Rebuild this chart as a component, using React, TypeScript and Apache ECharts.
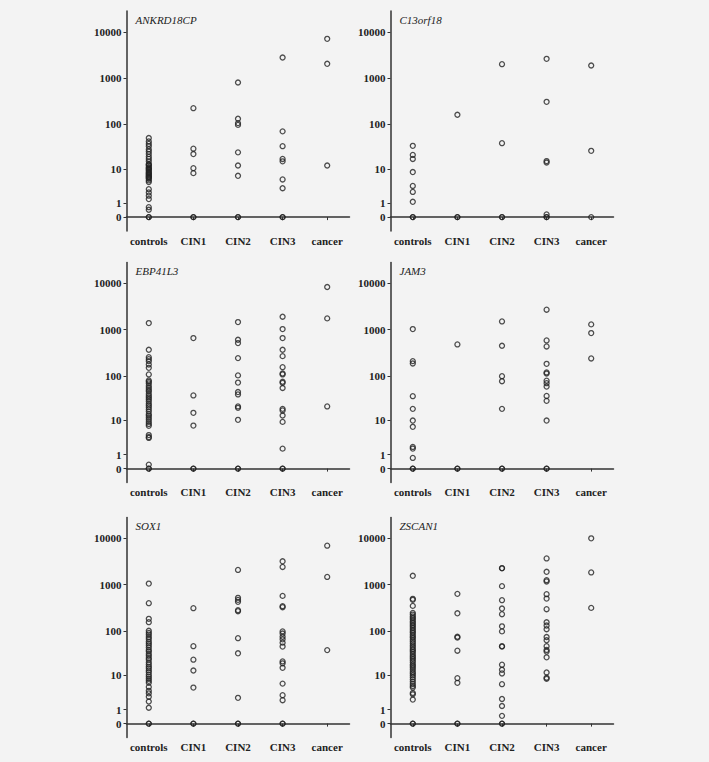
import React, { useEffect, useRef } from 'react';
import * as echarts from 'echarts';

const CATEGORIES = ['controls', 'CIN1', 'CIN2', 'CIN3', 'cancer'];
const Y_TICK_LABELS = [0, 1, 10, 100, 1000, 10000];
const GENES = ['ANKRD18CP', 'C13orf18', 'EBP41L3', 'JAM3', 'SOX1', 'ZSCAN1'];

// values per category: controls, CIN1, CIN2, CIN3, cancer
const ANKRD18CP = [
  [50, 42, 37, 33, 28, 25, 22, 19, 17, 15, 13, 12.5, 12, 11, 10.5, 10, 9.5, 9, 8.4, 8, 7.6, 7.2, 6.9, 6.5, 6.3, 6, 5.7, 5.2, 4.7, 3.0, 2.4, 1.9, 1.45, 0.64, 0.44, 0, 0],
  [224, 29, 22, 10.4, 7.9, 0, 0],
  [805, 132, 106, 97, 24, 12, 6.8, 0, 0],
  [2790, 70, 33, 17, 15, 5.5, 3.2, 0, 0],
  [7060, 2040, 12],
];
const C13ORF18 = [
  [33.6, 21, 17, 8.4, 3.7, 2.5, 1.14, 0, 0],
  [161, 0, 0],
  [2004, 38.5, 0, 0],
  [2612, 307, 15.2, 14.1, 0.14, 0, 0],
  [1875, 26, 0],
];
const EBP41L3 = [
  [1387, 367, 254, 230, 208, 176, 149, 107, 79, 74, 68, 60, 54, 49, 45, 40, 36, 33, 30, 27, 24, 22, 20, 18, 16, 14, 12.8, 11.5, 10.3, 9.2, 8.2, 7.4, 4.3, 3.8, 3.6, 0.22, 0, 0],
  [657, 37, 15, 7.5, 0, 0],
  [1458, 604, 512, 242, 102, 71, 44, 39, 21, 19.5, 10.3, 0, 0],
  [1900, 1029, 657, 367, 267, 154, 112, 107, 74, 70, 54, 18.5, 17, 13, 9.2, 1.7, 0, 0],
  [8330, 1750, 21],
];
const JAM3 = [
  [1029, 208, 185, 35.6, 18.5, 9.9, 7.0, 1.94, 1.71, 0.7, 0, 0],
  [479, 0, 0],
  [1506, 448, 98, 76, 18.5, 0, 0],
  [2697, 585, 433, 182, 118, 112, 78, 69, 58, 36, 28, 9.9, 0, 0],
  [1299, 843, 238],
];
const SOX1 = [
  [1054, 397, 182, 154, 100, 90, 82, 73, 66, 58, 53, 48, 43, 38, 35, 31, 28, 25, 23, 20, 18, 16, 14.6, 13.1, 11.8, 10.4, 9.3, 8.3, 7.4, 6.6, 5.2, 4.1, 3.5, 2.8, 2.0, 1.2, 0, 0],
  [310, 46, 23, 13, 5, 0, 0],
  [2078, 518, 468, 424, 280, 266, 69, 32, 2.6, 0, 0],
  [3197, 2410, 571, 342, 325, 97, 87, 74, 65, 55, 45, 21, 19, 15, 6.3, 3.1, 2.2, 0, 0],
  [6950, 1468, 37.6],
];
const ZSCAN1 = [
  [1552, 493, 469, 347, 245, 225, 205, 190, 175, 160, 148, 135, 125, 115, 105, 97, 90, 82, 75, 70, 64, 58, 53, 48, 44, 40, 37, 34, 31, 28, 26, 24, 22, 20, 18, 16.5, 15, 13.5, 12, 11, 10, 9, 8, 7, 6.2, 5.5, 5, 3.6, 3.3, 2.3, 0, 0],
  [632, 240, 74, 71, 36.5, 8.6, 6.6, 0, 0],
  [2275, 2250, 928, 461, 304, 229, 125, 97, 46, 45, 17.7, 13.5, 11.1, 6.1, 2.4, 1.4, 0.47, 0, 0],
  [3688, 1896, 1250, 1171, 622, 500, 294, 153, 130, 108, 73, 62, 46, 38, 35, 26, 11.7, 8.8, 8.3],
  [10000, 1835, 314],
];

const GENE_DATA = [ANKRD18CP, C13ORF18, EBP41L3, JAM3, SOX1, ZSCAN1];

const toT = (v: number) => Math.log10(v + 1);

export default function App() {
  const ref = useRef<HTMLDivElement>(null);

  useEffect(() => {
    if (!ref.current) return;
    const chart = echarts.init(ref.current, null, { renderer: 'svg' });

    const FONT = 'Liberation Serif';
    const AXIS_COLOR = '#333';
    const TEXT_COLOR = '#222';
    const lefts = [126.5, 390.5];
    const tops = [11, 262.5, 517.5];
    const W = 223;
    const H = 220;
    const tickT = Y_TICK_LABELS.map(toT);

    const grids: any[] = [];
    const xAxes: any[] = [];
    const yAxes: any[] = [];
    const series: any[] = [];
    const titles: any[] = [];

    GENES.forEach((gene, i) => {
      const col = i % 2;
      const row = Math.floor(i / 2);
      grids.push({ left: lefts[col], top: tops[row], width: W, height: H, containLabel: false });
      xAxes.push({
        type: 'category',
        gridIndex: i,
        data: CATEGORIES,
        boundaryGap: true,
        axisLine: { show: true, lineStyle: { color: AXIS_COLOR, width: 1.5 } },
        axisTick: { show: true, alignWithLabel: true, interval: 0, length: 3, lineStyle: { color: AXIS_COLOR } },
        axisLabel: { interval: 0, hideOverlap: false, fontFamily: FONT, fontSize: 11, fontWeight: 'bold', color: TEXT_COLOR, margin: 4 },
        splitLine: { show: false },
      });
      yAxes.push({
        type: 'value',
        gridIndex: i,
        min: -0.3,
        max: 4.45,
        splitLine: { show: false },
        axisLine: { show: true, lineStyle: { color: AXIS_COLOR, width: 1.5 } },
        axisTick: { show: true, length: 3, customValues: tickT, lineStyle: { color: AXIS_COLOR } },
        axisLabel: {
          customValues: tickT,
          formatter: (v: number) => String(Math.round(Math.pow(10, v) - 1)),
          fontFamily: FONT,
          fontSize: 11,
          fontWeight: 'bold',
          color: TEXT_COLOR,
          margin: 5,
        },
      });
      const points: number[][] = [];
      GENE_DATA[i].forEach((vals, ci) => {
        vals.forEach((v) => points.push([ci, toT(v)]));
      });
      series.push({
        type: 'scatter',
        xAxisIndex: i,
        yAxisIndex: i,
        data: points,
        symbol: 'circle',
        symbolSize: 5,
        itemStyle: { color: 'rgba(0,0,0,0)', borderColor: '#222', borderWidth: 1.3 },
        silent: true,
      });
      titles.push({
        text: gene,
        left: lefts[col] + 9,
        top: tops[row] + 3,
        padding: 0,
        textStyle: { fontFamily: FONT, fontSize: 11, fontStyle: 'italic', fontWeight: 'normal', color: TEXT_COLOR },
      });
    });

    chart.setOption({
      animation: false,
      backgroundColor: '#f3f3f3',
      title: titles,
      grid: grids,
      xAxis: xAxes,
      yAxis: yAxes,
      series,
    });

    return () => chart.dispose();
  }, []);

  return <div ref={ref} style={{ position: 'absolute', left: 0, top: 0, width: 709, height: 762 }} />;
}
